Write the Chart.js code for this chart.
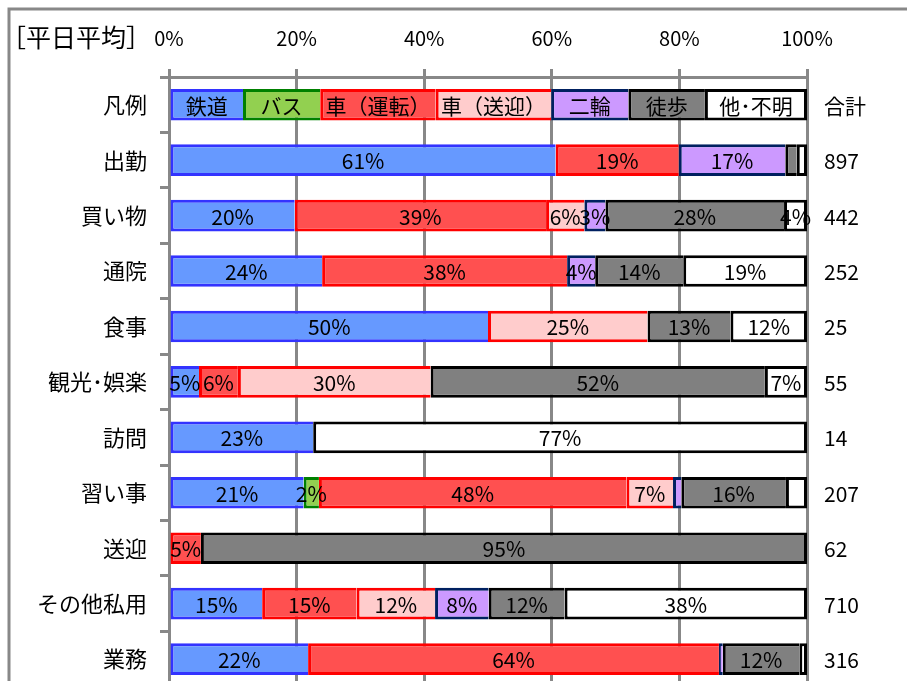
<!DOCTYPE html>
<html>
<head>
<meta charset="utf-8">
<script src="https://cdn.jsdelivr.net/npm/chart.js@4.4.0/dist/chart.umd.min.js"></script>
<style>
html, body { margin: 0; padding: 0; background: #fff; overflow: hidden; }
#wrap { position: relative; width: 907px; height: 713px; }
</style>
</head>
<body>
<div id="wrap"><canvas id="modeChart" width="907" height="713"></canvas></div>
<script>
const fontStack = '"Noto Sans CJK JP", "Noto Sans", sans-serif';

// row labels (top to bottom) and sample totals
const categories = ['凡例', '出勤', '買い物', '通院', '食事', '観光･娯楽', '訪問', '習い事', '送迎', 'その他私用', '業務'];
const totals = ['合計', '897', '442', '252', '25', '55', '14', '207', '62', '710', '316'];
const xTicks = ['0%', '20%', '40%', '60%', '80%', '100%'];

// share of each mode, % (first row is the legend strip)
const railway  = [11.6, 60.6, 19.7, 24.0, 50, 4.7, 22.6, 21.1, 0, 14.6, 21.8];
const bus      = [12.1, 0, 0, 0, 0, 0, 0, 2.4, 0, 0, 0];
const carDrive = [18.1, 19.3, 39.4, 38.4, 0, 6.1, 0, 48.2, 5, 14.8, 64.4];
const carRide  = [18.1, 0, 6.0, 0, 25, 30.2, 0, 7.3, 0, 12.3, 0];
const twoWheel = [12.1, 16.7, 3.3, 4.4, 0, 0, 0, 1.3, 0, 8.4, 0.6];
const walk     = [12.0, 1.8, 28.0, 13.8, 13, 52.4, 0, 16.4, 95, 11.9, 12.0];
const other    = [16.0, 1.6, 3.6, 19.4, 12, 6.6, 77.4, 3.3, 0, 38.0, 1.2];

// labels that were removed in the original
const hiddenLabels = [['習い事', '他･不明']];

const series = [
    { label: '鉄道', data: railway, fill: '#6699FF', line: '#3333FF' },
    { label: 'バス', data: bus, fill: '#92D050', line: '#008000' },
    { label: '車（運転）', data: carDrive, fill: '#FF5050', line: '#FF0000' },
    { label: '車（送迎）', data: carRide, fill: '#FFCCCC', line: '#FF0000' },
    { label: '二輪', data: twoWheel, fill: '#CC99FF', line: '#002060' },
    { label: '徒歩', data: walk, fill: '#808080', line: '#000000' },
    { label: '他･不明', data: other, fill: '#FFFFFF', line: '#000000' }
];

// last non-empty segment in a row keeps its right border
function lastSegment(row) {
    let last = 0;
    series.forEach((s, i) => { if (s.data[row] > 0) last = i; });
    return last;
}

const segmentLabels = {
    id: 'segmentLabels',
    afterDatasetsDraw(chart) {
        const ctx = chart.ctx;
        ctx.save();
        ctx.font = '21px ' + fontStack;
        ctx.fillStyle = '#000';
        ctx.textAlign = 'center';
        ctx.textBaseline = 'middle';
        chart.data.datasets.forEach((ds, di) => {
            chart.getDatasetMeta(di).data.forEach((bar, i) => {
                const v = ds.data[i];
                let text = null;
                if (i === 0) text = ds.label;
                else if (v >= 2 && !hiddenLabels.some(h => h[0] === categories[i] && h[1] === ds.label)) {
                    text = Math.round(v) + '%';
                }
                if (text) ctx.fillText(text, (bar.x + bar.base) / 2, bar.y + 1);
            });
        });
        ctx.restore();
    }
};

const frameAndText = {
    id: 'frameAndText',
    afterDraw(chart) {
        const ctx = chart.ctx;
        const y = chart.scales.y;
        ctx.save();
        ctx.strokeStyle = '#888888';
        ctx.lineWidth = 3;
        ctx.beginPath();
        ctx.moveTo(9, 713);
        ctx.lineTo(9, 9);
        ctx.lineTo(907, 9);
        ctx.stroke();

        ctx.fillStyle = '#000';
        ctx.textBaseline = 'middle';
        ctx.textAlign = 'left';
        ctx.font = '25px ' + fontStack;
        ctx.fillText('［平日平均］', 1, 37);

        ctx.font = '21px ' + fontStack;
        totals.forEach((t, i) => {
            ctx.fillText(t, 824, y.getPixelForValue(i) + 1);
        });
        ctx.restore();
    }
};

let chart;

function initChart() {
    const ctx = document.getElementById('modeChart').getContext('2d');
    chart = new Chart(ctx, {
        type: 'bar',
        data: {
            labels: categories,
            datasets: series.map(s => ({
                label: s.label,
                data: s.data,
                backgroundColor: s.fill,
                borderColor: s.line,
                borderWidth: 3,
                borderSkipped: c => (c.datasetIndex === lastSegment(c.dataIndex) ? false : 'end'),
                barPercentage: 0.57,
                categoryPercentage: 1
            }))
        },
        options: {
            indexAxis: 'y',
            responsive: false,
            animation: false,
            layout: { padding: { left: 0, right: 100, top: 0, bottom: 13 } },
            scales: {
                x: {
                    position: 'top',
                    stacked: true,
                    min: 0,
                    max: 100,
                    afterFit: s => { s.height = 77; },
                    ticks: {
                        stepSize: 20,
                        padding: 19,
                        color: '#000',
                        font: { size: 20, family: fontStack },
                        callback: (v, i) => xTicks[i]
                    },
                    grid: { color: '#888888', lineWidth: 3, tickLength: 8 },
                    border: { color: '#888888', width: 3 }
                },
                y: {
                    stacked: true,
                    afterFit: s => { s.width = 169; },
                    ticks: {
                        padding: 13,
                        color: '#000',
                        font: { size: 22, family: fontStack }
                    },
                    grid: { offset: true, drawOnChartArea: false, color: '#888888', lineWidth: 3, tickLength: 9 },
                    border: { color: '#888888', width: 3 }
                }
            },
            plugins: {
                legend: { display: false },
                tooltip: { enabled: false }
            }
        },
        plugins: [segmentLabels, frameAndText]
    });
}

initChart();
</script>
</body>
</html>
